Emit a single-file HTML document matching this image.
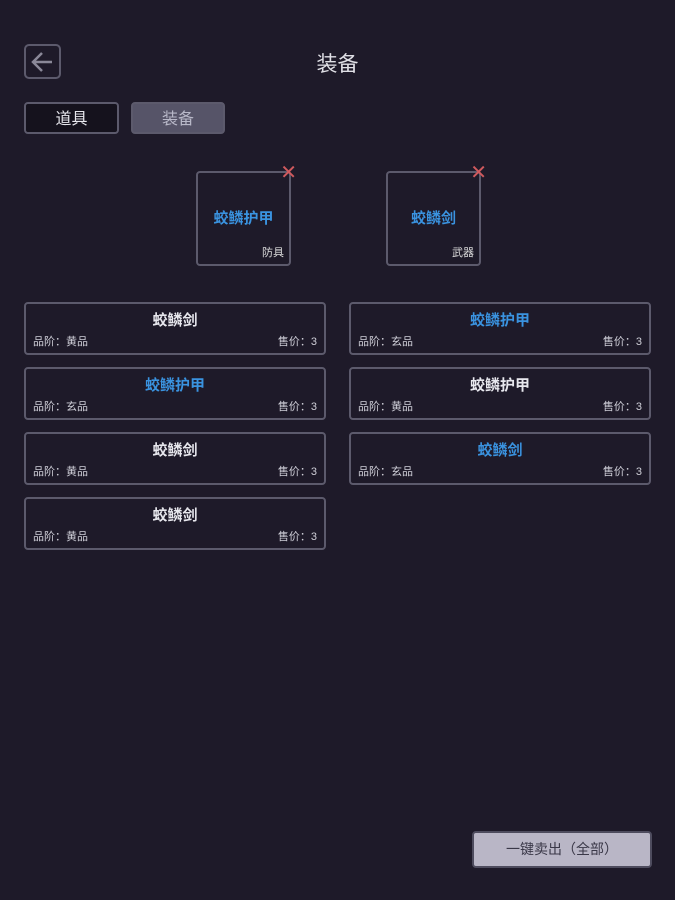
<!DOCTYPE html>
<html><head><meta charset="utf-8"><style>
body{margin:0;width:675px;height:900px;background:#1e1a29;font-family:"Liberation Sans","Noto Sans CJK SC",sans-serif;position:relative;overflow:hidden;color:#e8e8ee}
.a{position:absolute;box-sizing:border-box}
.b{border:2px solid #5c5a6c;border-radius:4px}
.card{width:302px;height:53px}
.card .t{position:absolute;left:0;right:0;top:5px;text-align:center;font-size:15px;font-weight:bold}
.card .l{position:absolute;left:7px;bottom:4px;font-size:11px;color:#cfcfd8}
.card .r{position:absolute;right:7px;bottom:4px;font-size:11px;color:#cfcfd8}
.blue{color:#3a93e0}
.slot{width:95px;height:95px}
.slot .t{position:absolute;left:0;right:0;top:34px;text-align:center;font-size:15px;color:#3a93e0;font-weight:bold}
.slot .s{position:absolute;right:5px;bottom:4px;font-size:11px;color:#ddd}
.x{position:absolute;top:-10px;right:-8px;color:#d05a5e;font-size:20px;line-height:20px}
</style></head><body>
<div class="a b" style="left:24px;top:44px;width:37px;height:35px;border-radius:5px"><svg width="33" height="31" style="position:absolute;left:0;top:0"><path d="M26 16H8M16 7L7 16L16 25" stroke="#8a8898" stroke-width="2.5" fill="none"/></svg></div>
<div class="a" style="left:0;width:675px;top:48px;text-align:center;font-size:21px;color:#e0e0e6">装备</div>
<div class="a b" style="left:24px;top:102px;width:95px;height:32px;background:#15121d;text-align:center;line-height:32px;font-size:16px">道具</div>
<div class="a b" style="left:131px;top:102px;width:94px;height:32px;background:#565468;text-align:center;line-height:32px;font-size:16px;color:#b8b8c8">装备</div>
<div class="a b slot" style="left:196px;top:171px"><div class="t">蛟鳞护甲</div><div class="s">防具</div><div class="x">✕</div></div>
<div class="a b slot" style="left:386px;top:171px"><div class="t">蛟鳞剑</div><div class="s">武器</div><div class="x">✕</div></div>

<div class="a b card" style="left:24px;top:302px"><div class="t">蛟鳞剑</div><div class="l">品阶：黄品</div><div class="r">售价：3</div></div>
<div class="a b card" style="left:24px;top:367px"><div class="t blue">蛟鳞护甲</div><div class="l">品阶：玄品</div><div class="r">售价：3</div></div>
<div class="a b card" style="left:24px;top:432px"><div class="t">蛟鳞剑</div><div class="l">品阶：黄品</div><div class="r">售价：3</div></div>
<div class="a b card" style="left:24px;top:497px"><div class="t">蛟鳞剑</div><div class="l">品阶：黄品</div><div class="r">售价：3</div></div>
<div class="a b card" style="left:349px;top:302px"><div class="t blue">蛟鳞护甲</div><div class="l">品阶：玄品</div><div class="r">售价：3</div></div>
<div class="a b card" style="left:349px;top:367px"><div class="t">蛟鳞护甲</div><div class="l">品阶：黄品</div><div class="r">售价：3</div></div>
<div class="a b card" style="left:349px;top:432px"><div class="t blue">蛟鳞剑</div><div class="l">品阶：玄品</div><div class="r">售价：3</div></div>

<div class="a b" style="left:472px;top:831px;width:180px;height:37px;background:#b9b6c6;border-color:#4e4c5e;text-align:center;line-height:33px;font-size:14px;color:#3a3848">一键卖出（全部）</div>
</body></html>
